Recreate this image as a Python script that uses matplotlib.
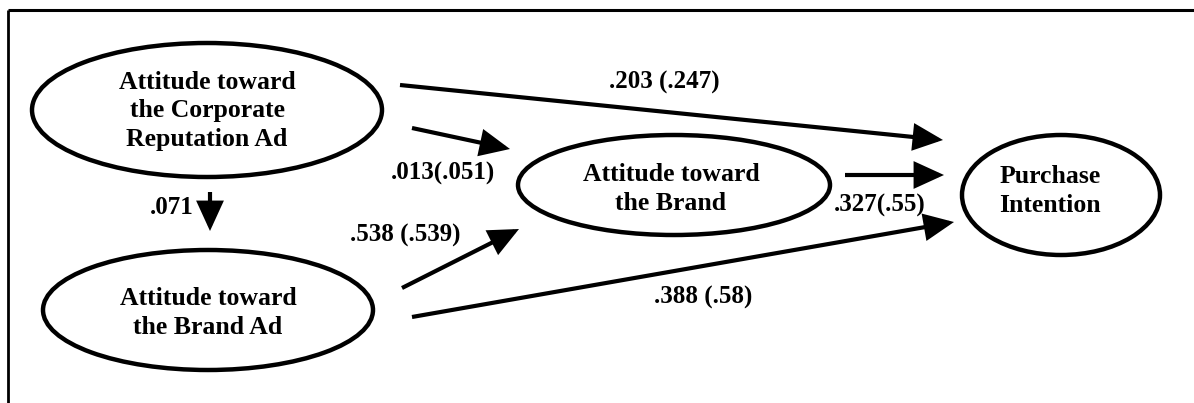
import matplotlib
matplotlib.use("Agg")
import matplotlib.pyplot as plt
from matplotlib.patches import Ellipse

# model content
node_names = ["corp_ad", "brand_ad", "brand", "purchase"]
node_labels = [
    "Attitude toward\nthe Corporate\nReputation Ad",
    "Attitude toward\nthe Brand Ad",
    "Attitude toward\nthe Brand",
    "Purchase\nIntention",
]
path_from = ["corp_ad", "corp_ad", "corp_ad", "brand_ad", "brand_ad", "brand"]
path_to = ["purchase", "brand", "brand_ad", "brand", "purchase", "purchase"]
path_coefs = [".203 (.247)", ".013(.051)", ".071", ".538 (.539)", ".388 (.58)", ".327(.55)"]

# layout in pixel units of the page (y grows downwards)
node_center = {"corp_ad": (207, 110), "brand_ad": (208, 310),
               "brand": (674, 185), "purchase": (1061, 195)}
node_size = {"corp_ad": (350, 134), "brand_ad": (330, 120),
             "brand": (312, 100), "purchase": (198, 120)}
text_pos = {"corp_ad": (207, 111), "brand_ad": (208, 313),
            "brand": (671, 189), "purchase": (1050, 191)}
arrow_pts = [
    ((400, 85), (943, 140)),
    ((412, 128), (510, 149)),
    ((210, 192), (210, 231)),
    ((402, 288), (519, 229)),
    ((412, 317), (954, 222)),
    ((845, 175), (944, 175)),
]
coef_pos = [(664, 82), (443, 173), (172, 207), (405, 235), (703, 297), (880, 205)]

FONT = "Liberation Serif"


def draw_diagram():
    fig = plt.figure(figsize=(11.94, 4.03), dpi=100)
    ax = fig.add_axes([0, 0, 1, 1])
    ax.set_xlim(0, 1194)
    ax.set_ylim(403, 0)
    ax.axis("off")

    # frame (top and left edges visible in the scan)
    ax.plot([8, 1194], [10, 10], color="black", lw=2.2, solid_capstyle="butt")
    ax.plot([8, 8], [10, 403], color="black", lw=2.0, solid_capstyle="butt")

    for name, label in zip(node_names, node_labels):
        w, h = node_size[name]
        ax.add_patch(Ellipse(node_center[name], w, h, fill=False,
                             edgecolor="black", lw=3.2))
        tx, ty = text_pos[name]
        ax.text(tx, ty, label, ha="center", va="center", family=FONT,
                fontweight="bold", fontsize=18.5, linespacing=1.3)

    for (start, end), coef, pos in zip(arrow_pts, path_coefs, coef_pos):
        ax.annotate("", xy=end, xytext=start,
                    arrowprops=dict(arrowstyle="-|>,head_length=0.7,head_width=0.32",
                                    mutation_scale=24, lw=3.0, color="black",
                                    shrinkA=0, shrinkB=0,
                                    joinstyle="miter", capstyle="butt"))
        ax.text(pos[0], pos[1], coef, ha="center", va="center", family=FONT,
                fontweight="bold", fontsize=18)

    fig.savefig("out.png", dpi=100, facecolor="white")


if __name__ == "__main__":
    draw_diagram()
